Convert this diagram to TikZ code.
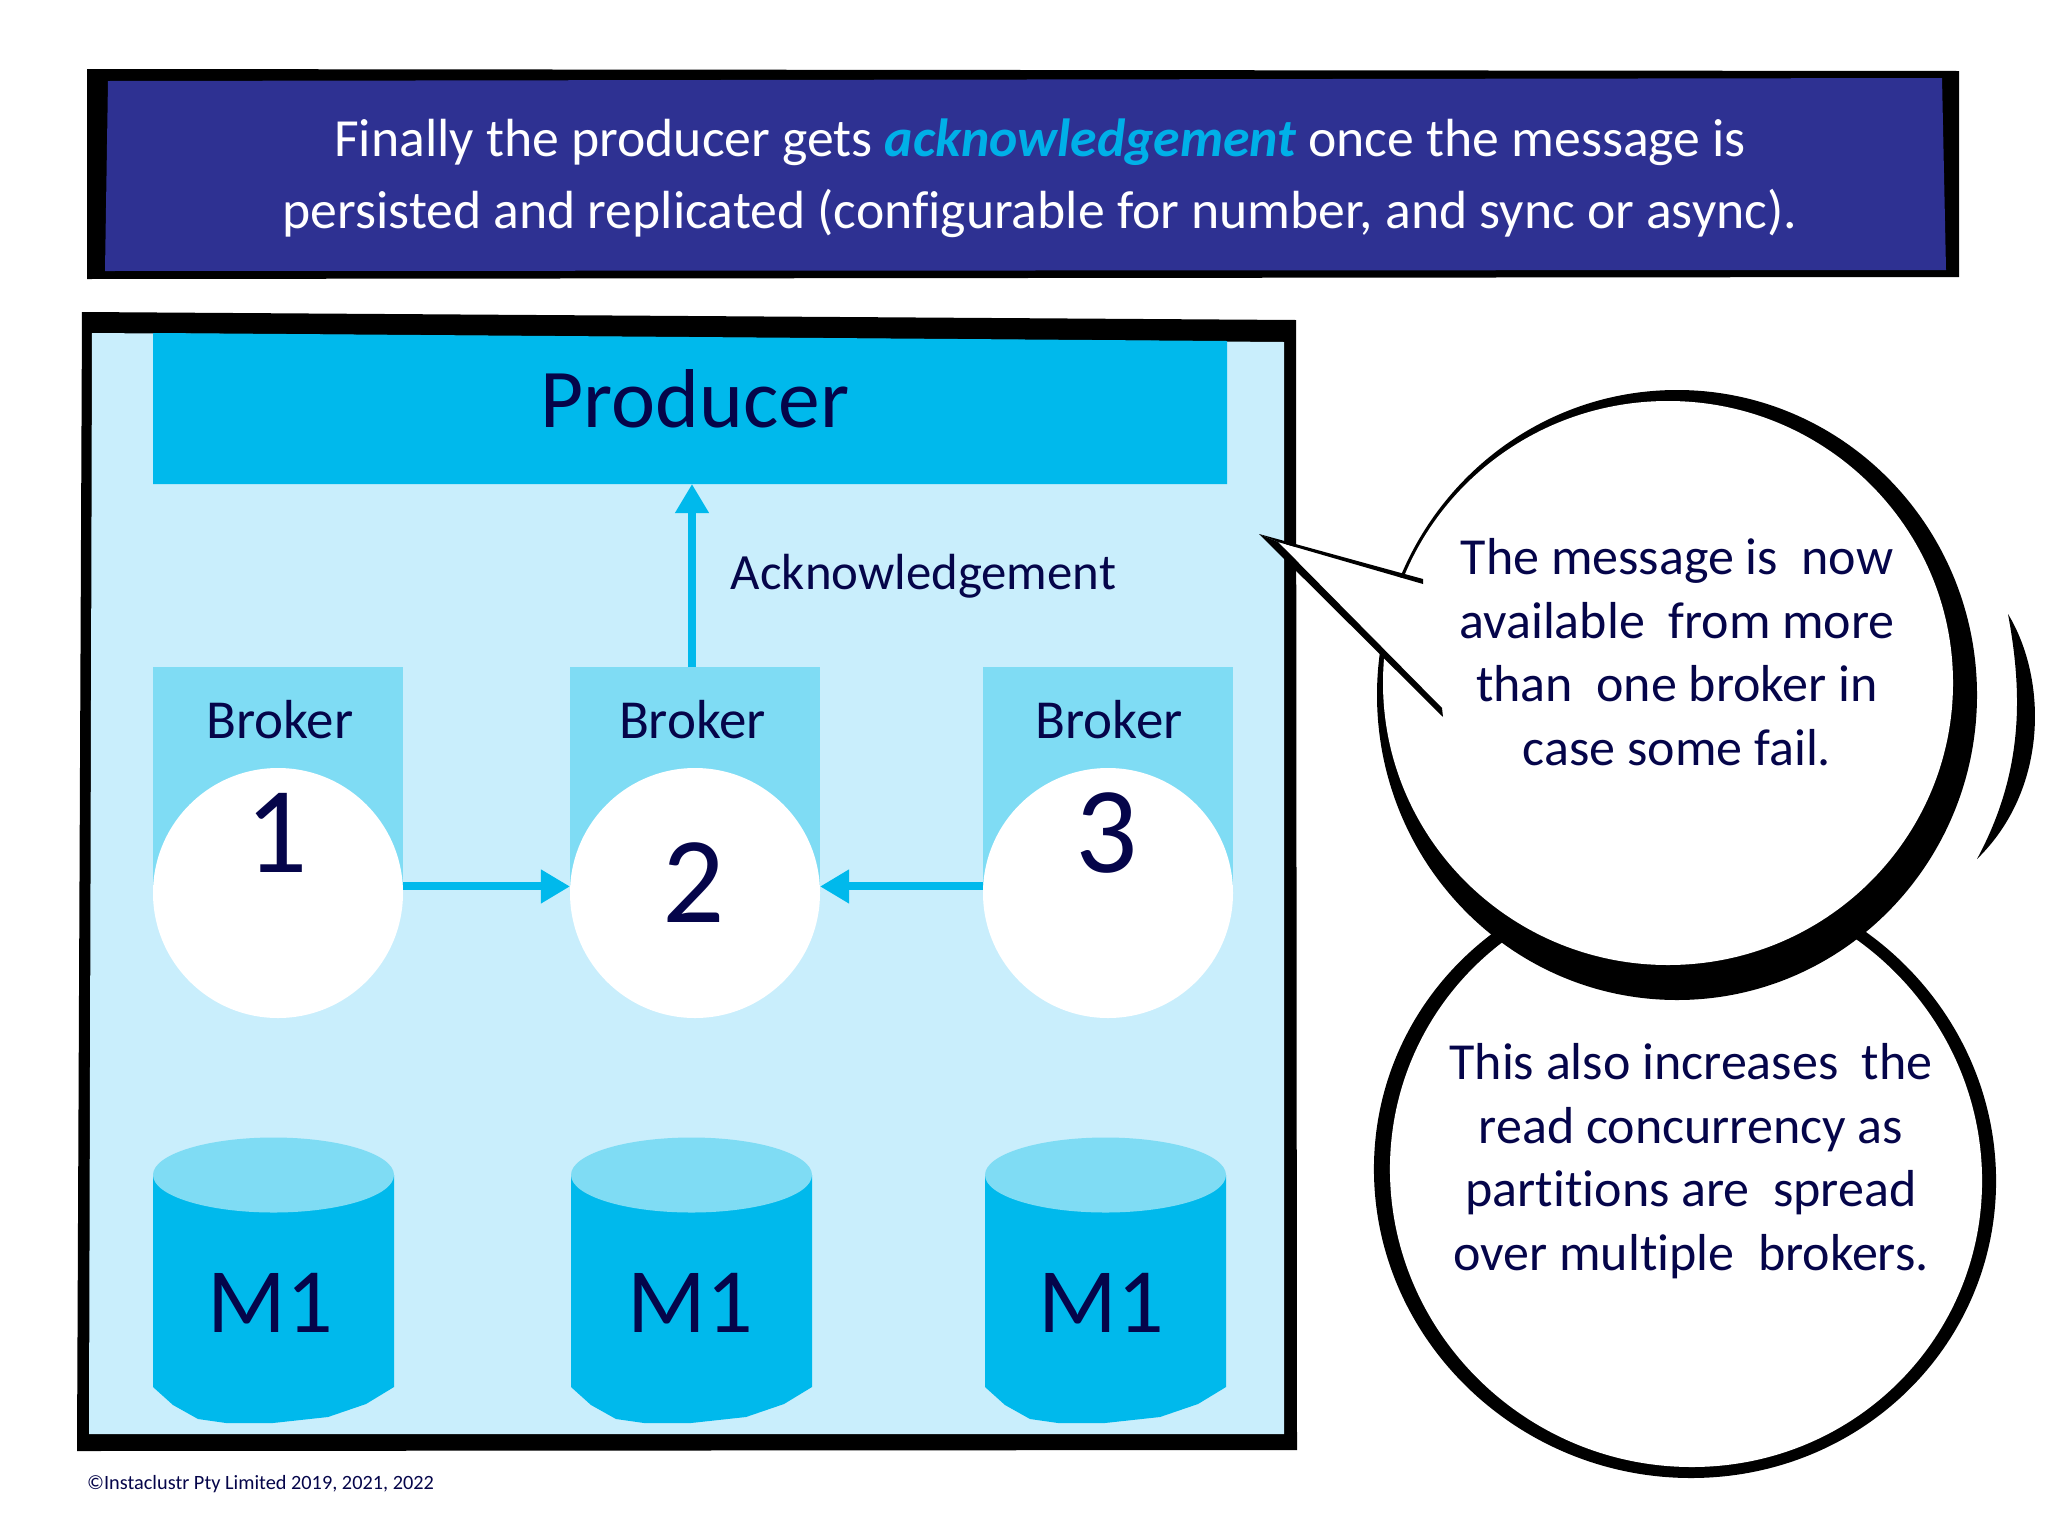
\documentclass[tikz,border=0pt]{standalone}
\usepackage{fontspec}
\setmainfont{Carlito}[Ligatures=NoCommon]
\usetikzlibrary{arrows.meta,calc}
\definecolor{navy}{HTML}{05054A}
\definecolor{hdr}{HTML}{2E3192}
\definecolor{lite}{HTML}{C9EEFC}
\definecolor{midc}{HTML}{7FDCF4}
\definecolor{dark}{HTML}{00B9EC}
\definecolor{ackc}{HTML}{00B0E8}
\tikzset{
 txt/.style={text=navy,inner sep=0pt,align=center},
 brokerbox/.style={fill=midc,draw=none,anchor=north west,minimum width=250pt,minimum height=226pt,inner sep=0pt},
 brokerdisc/.style={circle,fill=white,draw=none,minimum size=250pt,inner sep=0pt},
 flow/.style={draw=dark,line width=8pt,-{Triangle[length=29pt,width=32pt]},shorten >=0pt},
}
\newcommand{\fs}[2]{\fontsize{#1}{#2}\selectfont}
\begin{document}
\begin{tikzpicture}[x=1pt,y=-1pt]
\useasboundingbox (0,0) rectangle (2048,1537);
\fill[white] (0,0) rectangle (2048,1537);
% header
\fill[black] (87,69) -- (1959,71) -- (1959,277) -- (87,279) -- cycle;
\fill[hdr] (108,81) -- (1942,78) -- (1946,270) -- (105,271) -- cycle;
\node[inner sep=0pt,align=center,text=white,font=\fs{53.7}{72}] (head) at (1040,178)
 {Finally the producer gets {\color{ackc}\bfseries\itshape acknowledgement} once the message is\\
  persisted and replicated (configurable for number, and sync or async).};
% frame
\fill[black] (82,312) -- (1296,320) -- (1297,1450) -- (77,1451) -- cycle;
\fill[lite] (92,333) -- (1284,342) -- (1284,1434) -- (89,1434) -- cycle;
% producer
\fill[dark] (153,333) -- (1227,341) -- (1227,484) -- (153,484) -- cycle;
\node[txt,font=\fs{83.5}{90}] (prod) at (695,399) {Producer};
\coordinate (pb) at (692,484);
% brokers
\node[brokerbox] (r1) at (153,667) {};
\node[brokerbox] (r2) at (570,667) {};
\node[brokerbox] (r3) at (983,667) {};
\node[brokerdisc] (b1) at (278,893) {};
\node[brokerdisc] (b2) at (695,893) {};
\node[brokerdisc] (b3) at (1108,893) {};
\node[txt,font=\fs{55}{60}] (t1) at (280,720) {Broker};
\node[txt,font=\fs{55}{60}] (t2) at (692.5,720) {Broker};
\node[txt,font=\fs{55}{60}] (t3) at (1109,720) {Broker};
\node[txt,font=\fs{123}{130}] (n1) at (277,833) {1};
\node[txt,font=\fs{123}{130}] (n2) at (694,883) {2};
\node[txt,font=\fs{123}{130}] (n3) at (1107,833) {3};
\draw[flow] (r2.north -| pb) -- (pb);
\draw[flow] (b1.3) -- (b2.177);
\draw[flow] (b3.177) -- (b2.3);
\node[txt,font=\fs{50.8}{60}] (ack) at (923.5,576) {Acknowledgement};
% cylinders
\foreach \cx/\nm/\tx in {153/1/270,571/2/690,985/3/1101}{
 \begin{scope}[shift={(\cx,0)}]
  \fill[dark] (0,1175) -- (0,1387) -- (20,1405) -- (45,1419) -- (73,1423) -- (120,1423) -- (175,1417) -- (213,1404) -- (241,1387) -- (241,1175) -- cycle;
  \fill[midc] (120.5,1175) ellipse [x radius=120.5,y radius=37.5];
 \end{scope}
 \node[txt,font=\fs{92}{95}] (m\nm) at (\tx,1303) {M1};
}
% lower bubble
\begin{scope}[shift={(1685,1175)},xslant=-0.02]
\fill[black] (0,0) ellipse [x radius=311,y radius=303];
\fill[white] (1,0) ellipse [x radius=296,y radius=292];
\end{scope}
% upper bubble
\fill[black] (1677,695) ellipse [x radius=300,y radius=305];
\fill[white] (1668,683) ellipse [x radius=285,y radius=282];
% tail
\fill[white] (1278,542) -- (1423,584) -- (1442,708) -- cycle;
\fill[black] (1259,534) -- (1423,579) -- (1423,584) -- (1278,542) -- cycle;
\fill[black] (1259,534) -- (1278,542) -- (1442,708) -- (1443,717) -- cycle;
% crescent
\fill[black] (2008,614) .. controls (2048,680) and (2048,790) .. (1977,859) .. controls (2025,770) and (2022,690) .. (2008,614) -- cycle;
\node[txt,font=\fs{52}{63.7}] (q1) at (1677,652)
 {The message is\ \ now\\available\ \ from more\\than\ \ one broker in\\case some fail.};
\node[txt,font=\fs{52}{63.7}] (q2) at (1691,1161)
 {This also increases\ \ the\\read concurrency as\\partitions are\ \ spread\\over multiple\ \ brokers.};
\node[txt,anchor=base west,font=\fs{20.3}{24}] (copy) at (87,1489) {©Instaclustr Pty Limited 2019, 2021, 2022};
\end{tikzpicture}
\end{document}
